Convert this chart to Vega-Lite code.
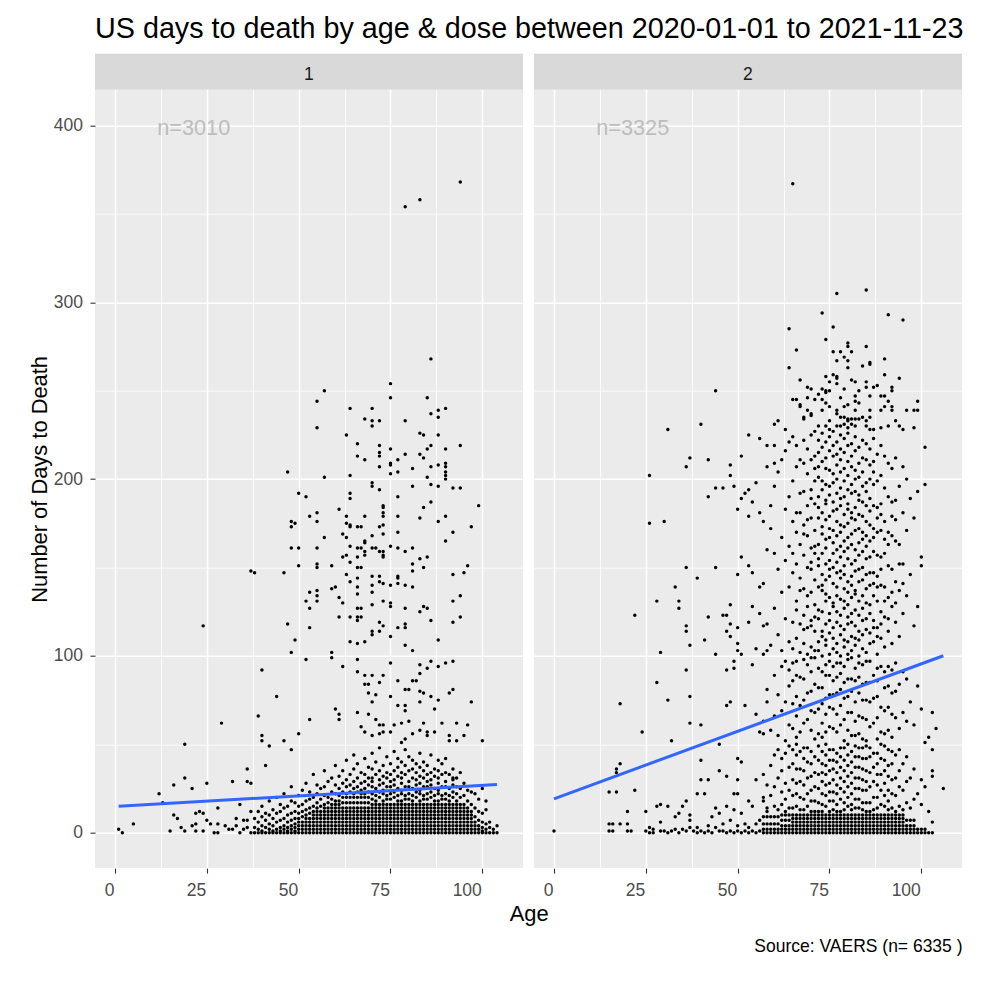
{
  "$schema": "https://vega.github.io/schema/vega-lite/v6.json",
  "background": "white",
  "padding": {"left": 28, "top": 14.7, "right": 5, "bottom": 5},
  "config": {
    "font": "Liberation Sans",
    "view": {"fill": "#EBEBEB", "stroke": null},
    "axis": {
      "domain": false,
      "gridColor": "#FFFFFF",
      "tickColor": "#333333",
      "tickWidth": 1.1,
      "tickSize": 5,
      "labelColor": "#4D4D4D",
      "labelFontSize": 17.5,
      "labelFont": "Liberation Sans",
      "titleFont": "Liberation Sans",
      "titleFontWeight": "normal",
      "titleColor": "#000000",
      "titleFontSize": 21.9,
      "labelOverlap": false,
      "labelFlush": false
    }
  },
  "bounds": "flush",
  "spacing": 11,
  "hconcat": [
    {
      "width": 428,
      "height": 814.4,
      "title": {
        "text": "US days to death by age & dose between 2020-01-01 to 2021-11-23",
        "anchor": "start",
        "frame": "group",
        "fontSize": 28.75,
        "fontWeight": "normal",
        "color": "#000000",
        "baseline": "alphabetic",
        "offset": -12.8
      },
      "layer": [
        {
          "data": {"values": [
{"age":38,"days":0},{"age":38,"days":3},{"age":38,"days":8},
{"age":39,"days":0},{"age":39,"days":2},{"age":39,"days":6},{"age":39,"days":12},
{"age":40,"days":0},{"age":40,"days":1},{"age":40,"days":4},{"age":40,"days":9},{"age":40,"days":15},
{"age":41,"days":0},{"age":41,"days":3},{"age":41,"days":7},{"age":41,"days":11},
{"age":42,"days":0},{"age":42,"days":2},{"age":42,"days":5},{"age":42,"days":10},{"age":42,"days":18},
{"age":43,"days":0},{"age":43,"days":1},{"age":43,"days":4},{"age":43,"days":8},{"age":43,"days":13},
{"age":44,"days":0},{"age":44,"days":2},{"age":44,"days":6},{"age":44,"days":11},{"age":44,"days":20},
{"age":45,"days":0},{"age":45,"days":1},{"age":45,"days":3},{"age":45,"days":7},{"age":45,"days":12},{"age":45,"days":16},
{"age":46,"days":0},{"age":46,"days":2},{"age":46,"days":4},{"age":46,"days":8},{"age":46,"days":14},{"age":46,"days":22},
{"age":47,"days":0},{"age":47,"days":1},{"age":47,"days":3},{"age":47,"days":6},{"age":47,"days":10},{"age":47,"days":15},
{"age":48,"days":0},{"age":48,"days":2},{"age":48,"days":4},{"age":48,"days":7},{"age":48,"days":11},{"age":48,"days":18},{"age":48,"days":26},
{"age":49,"days":0},{"age":49,"days":1},{"age":49,"days":3},{"age":49,"days":5},{"age":49,"days":8},{"age":49,"days":12},{"age":49,"days":17},
{"age":50,"days":0},{"age":50,"days":2},{"age":50,"days":4},{"age":50,"days":6},{"age":50,"days":8},{"age":50,"days":11},{"age":50,"days":15},{"age":50,"days":21},
{"age":51,"days":0},{"age":51,"days":2},{"age":51,"days":4},{"age":51,"days":6},{"age":51,"days":9},{"age":51,"days":12},{"age":51,"days":16},{"age":51,"days":24},
{"age":52,"days":0},{"age":52,"days":2},{"age":52,"days":4},{"age":52,"days":6},{"age":52,"days":8},{"age":52,"days":10},{"age":52,"days":13},{"age":52,"days":18},{"age":52,"days":28},
{"age":53,"days":0},{"age":53,"days":2},{"age":53,"days":4},{"age":53,"days":6},{"age":53,"days":8},{"age":53,"days":11},{"age":53,"days":14},{"age":53,"days":19},{"age":53,"days":23},
{"age":54,"days":0},{"age":54,"days":2},{"age":54,"days":4},{"age":54,"days":6},{"age":54,"days":8},{"age":54,"days":10},{"age":54,"days":12},{"age":54,"days":15},{"age":54,"days":20},{"age":54,"days":33},
{"age":55,"days":0},{"age":55,"days":2},{"age":55,"days":4},{"age":55,"days":6},{"age":55,"days":8},{"age":55,"days":10},{"age":55,"days":12},{"age":55,"days":14},{"age":55,"days":17},{"age":55,"days":22},{"age":55,"days":27},
{"age":56,"days":0},{"age":56,"days":2},{"age":56,"days":4},{"age":56,"days":6},{"age":56,"days":8},{"age":56,"days":10},{"age":56,"days":12},{"age":56,"days":15},{"age":56,"days":19},{"age":56,"days":25},
{"age":57,"days":0},{"age":57,"days":2},{"age":57,"days":4},{"age":57,"days":6},{"age":57,"days":8},{"age":57,"days":10},{"age":57,"days":12},{"age":57,"days":14},{"age":57,"days":16},{"age":57,"days":21},{"age":57,"days":26},{"age":57,"days":35},
{"age":58,"days":0},{"age":58,"days":2},{"age":58,"days":4},{"age":58,"days":6},{"age":58,"days":8},{"age":58,"days":10},{"age":58,"days":12},{"age":58,"days":14},{"age":58,"days":17},{"age":58,"days":20},{"age":58,"days":29},
{"age":59,"days":0},{"age":59,"days":2},{"age":59,"days":4},{"age":59,"days":6},{"age":59,"days":8},{"age":59,"days":10},{"age":59,"days":12},{"age":59,"days":14},{"age":59,"days":16},{"age":59,"days":19},{"age":59,"days":23},{"age":59,"days":31},
{"age":60,"days":0},{"age":60,"days":2},{"age":60,"days":4},{"age":60,"days":6},{"age":60,"days":8},{"age":60,"days":10},{"age":60,"days":12},{"age":60,"days":14},{"age":60,"days":16},{"age":60,"days":18},{"age":60,"days":22},{"age":60,"days":27},{"age":60,"days":38},
{"age":61,"days":0},{"age":61,"days":2},{"age":61,"days":4},{"age":61,"days":6},{"age":61,"days":8},{"age":61,"days":10},{"age":61,"days":12},{"age":61,"days":14},{"age":61,"days":16},{"age":61,"days":18},{"age":61,"days":21},{"age":61,"days":25},{"age":61,"days":32},
{"age":62,"days":0},{"age":62,"days":2},{"age":62,"days":4},{"age":62,"days":6},{"age":62,"days":8},{"age":62,"days":10},{"age":62,"days":12},{"age":62,"days":14},{"age":62,"days":17},{"age":62,"days":20},{"age":62,"days":23},{"age":62,"days":28},{"age":62,"days":35},
{"age":63,"days":0},{"age":63,"days":2},{"age":63,"days":4},{"age":63,"days":6},{"age":63,"days":8},{"age":63,"days":10},{"age":63,"days":12},{"age":63,"days":14},{"age":63,"days":17},{"age":63,"days":20},{"age":63,"days":22},{"age":63,"days":26},{"age":63,"days":30},{"age":63,"days":41},
{"age":64,"days":0},{"age":64,"days":2},{"age":64,"days":4},{"age":64,"days":6},{"age":64,"days":8},{"age":64,"days":10},{"age":64,"days":12},{"age":64,"days":14},{"age":64,"days":17},{"age":64,"days":20},{"age":64,"days":23},{"age":64,"days":27},{"age":64,"days":33},
{"age":65,"days":0},{"age":65,"days":2},{"age":65,"days":4},{"age":65,"days":6},{"age":65,"days":8},{"age":65,"days":10},{"age":65,"days":12},{"age":65,"days":14},{"age":65,"days":17},{"age":65,"days":20},{"age":65,"days":22},{"age":65,"days":25},{"age":65,"days":29},{"age":65,"days":36},{"age":65,"days":44},
{"age":66,"days":0},{"age":66,"days":2},{"age":66,"days":4},{"age":66,"days":6},{"age":66,"days":8},{"age":66,"days":10},{"age":66,"days":12},{"age":66,"days":14},{"age":66,"days":17},{"age":66,"days":20},{"age":66,"days":23},{"age":66,"days":26},{"age":66,"days":31},{"age":66,"days":39},
{"age":67,"days":0},{"age":67,"days":2},{"age":67,"days":4},{"age":67,"days":6},{"age":67,"days":8},{"age":67,"days":10},{"age":67,"days":12},{"age":67,"days":14},{"age":67,"days":17},{"age":67,"days":20},{"age":67,"days":22},{"age":67,"days":24},{"age":67,"days":28},{"age":67,"days":34},
{"age":68,"days":0},{"age":68,"days":2},{"age":68,"days":4},{"age":68,"days":6},{"age":68,"days":8},{"age":68,"days":10},{"age":68,"days":12},{"age":68,"days":14},{"age":68,"days":17},{"age":68,"days":20},{"age":68,"days":22},{"age":68,"days":25},{"age":68,"days":29},{"age":68,"days":33},{"age":68,"days":42},
{"age":69,"days":0},{"age":69,"days":2},{"age":69,"days":4},{"age":69,"days":6},{"age":69,"days":8},{"age":69,"days":10},{"age":69,"days":12},{"age":69,"days":14},{"age":69,"days":17},{"age":69,"days":20},{"age":69,"days":23},{"age":69,"days":27},{"age":69,"days":31},{"age":69,"days":37},
{"age":70,"days":0},{"age":70,"days":2},{"age":70,"days":4},{"age":70,"days":6},{"age":70,"days":8},{"age":70,"days":10},{"age":70,"days":12},{"age":70,"days":14},{"age":70,"days":16},{"age":70,"days":19},{"age":70,"days":22},{"age":70,"days":26},{"age":70,"days":29},{"age":70,"days":31},{"age":70,"days":36},{"age":70,"days":45},
{"age":71,"days":0},{"age":71,"days":2},{"age":71,"days":4},{"age":71,"days":6},{"age":71,"days":8},{"age":71,"days":10},{"age":71,"days":12},{"age":71,"days":14},{"age":71,"days":16},{"age":71,"days":18},{"age":71,"days":21},{"age":71,"days":25},{"age":71,"days":33},{"age":71,"days":40},
{"age":72,"days":0},{"age":72,"days":2},{"age":72,"days":4},{"age":72,"days":6},{"age":72,"days":8},{"age":72,"days":10},{"age":72,"days":12},{"age":72,"days":14},{"age":72,"days":16},{"age":72,"days":20},{"age":72,"days":23},{"age":72,"days":27},{"age":72,"days":30},{"age":72,"days":35},{"age":72,"days":48},
{"age":73,"days":0},{"age":73,"days":2},{"age":73,"days":4},{"age":73,"days":6},{"age":73,"days":8},{"age":73,"days":10},{"age":73,"days":12},{"age":73,"days":14},{"age":73,"days":16},{"age":73,"days":18},{"age":73,"days":22},{"age":73,"days":24},{"age":73,"days":28},{"age":73,"days":32},{"age":73,"days":38},
{"age":74,"days":0},{"age":74,"days":2},{"age":74,"days":4},{"age":74,"days":6},{"age":74,"days":8},{"age":74,"days":10},{"age":74,"days":12},{"age":74,"days":14},{"age":74,"days":16},{"age":74,"days":19},{"age":74,"days":21},{"age":74,"days":26},{"age":74,"days":31},{"age":74,"days":34},{"age":74,"days":43},
{"age":75,"days":0},{"age":75,"days":2},{"age":75,"days":4},{"age":75,"days":6},{"age":75,"days":8},{"age":75,"days":10},{"age":75,"days":12},{"age":75,"days":14},{"age":75,"days":16},{"age":75,"days":19},{"age":75,"days":22},{"age":75,"days":26},{"age":75,"days":29},{"age":75,"days":33},{"age":75,"days":39},
{"age":76,"days":0},{"age":76,"days":2},{"age":76,"days":4},{"age":76,"days":6},{"age":76,"days":8},{"age":76,"days":10},{"age":76,"days":12},{"age":76,"days":14},{"age":76,"days":16},{"age":76,"days":20},{"age":76,"days":23},{"age":76,"days":27},{"age":76,"days":30},{"age":76,"days":35},{"age":76,"days":46},
{"age":77,"days":0},{"age":77,"days":2},{"age":77,"days":4},{"age":77,"days":6},{"age":77,"days":8},{"age":77,"days":10},{"age":77,"days":12},{"age":77,"days":14},{"age":77,"days":16},{"age":77,"days":18},{"age":77,"days":21},{"age":77,"days":25},{"age":77,"days":32},{"age":77,"days":37},{"age":77,"days":42},
{"age":78,"days":0},{"age":78,"days":2},{"age":78,"days":4},{"age":78,"days":6},{"age":78,"days":8},{"age":78,"days":10},{"age":78,"days":12},{"age":78,"days":14},{"age":78,"days":16},{"age":78,"days":18},{"age":78,"days":22},{"age":78,"days":24},{"age":78,"days":28},{"age":78,"days":31},{"age":78,"days":34},{"age":78,"days":40},
{"age":79,"days":0},{"age":79,"days":2},{"age":79,"days":4},{"age":79,"days":6},{"age":79,"days":8},{"age":79,"days":10},{"age":79,"days":12},{"age":79,"days":14},{"age":79,"days":16},{"age":79,"days":19},{"age":79,"days":21},{"age":79,"days":26},{"age":79,"days":33},{"age":79,"days":38},{"age":79,"days":47},
{"age":80,"days":0},{"age":80,"days":2},{"age":80,"days":4},{"age":80,"days":6},{"age":80,"days":8},{"age":80,"days":10},{"age":80,"days":12},{"age":80,"days":14},{"age":80,"days":16},{"age":80,"days":19},{"age":80,"days":22},{"age":80,"days":26},{"age":80,"days":29},{"age":80,"days":35},{"age":80,"days":43},
{"age":81,"days":0},{"age":81,"days":2},{"age":81,"days":4},{"age":81,"days":6},{"age":81,"days":8},{"age":81,"days":10},{"age":81,"days":12},{"age":81,"days":14},{"age":81,"days":16},{"age":81,"days":18},{"age":81,"days":21},{"age":81,"days":25},{"age":81,"days":31},{"age":81,"days":36},{"age":81,"days":41},
{"age":82,"days":0},{"age":82,"days":2},{"age":82,"days":4},{"age":82,"days":6},{"age":82,"days":8},{"age":82,"days":10},{"age":82,"days":12},{"age":82,"days":14},{"age":82,"days":16},{"age":82,"days":20},{"age":82,"days":23},{"age":82,"days":27},{"age":82,"days":30},{"age":82,"days":34},{"age":82,"days":39},
{"age":83,"days":0},{"age":83,"days":2},{"age":83,"days":4},{"age":83,"days":6},{"age":83,"days":8},{"age":83,"days":10},{"age":83,"days":12},{"age":83,"days":14},{"age":83,"days":16},{"age":83,"days":18},{"age":83,"days":22},{"age":83,"days":24},{"age":83,"days":28},{"age":83,"days":32},{"age":83,"days":37},{"age":83,"days":45},
{"age":84,"days":0},{"age":84,"days":2},{"age":84,"days":4},{"age":84,"days":6},{"age":84,"days":8},{"age":84,"days":10},{"age":84,"days":12},{"age":84,"days":14},{"age":84,"days":16},{"age":84,"days":19},{"age":84,"days":21},{"age":84,"days":26},{"age":84,"days":31},{"age":84,"days":35},{"age":84,"days":40},
{"age":85,"days":0},{"age":85,"days":2},{"age":85,"days":4},{"age":85,"days":6},{"age":85,"days":8},{"age":85,"days":10},{"age":85,"days":12},{"age":85,"days":14},{"age":85,"days":16},{"age":85,"days":19},{"age":85,"days":22},{"age":85,"days":26},{"age":85,"days":29},{"age":85,"days":33},{"age":85,"days":38},
{"age":86,"days":0},{"age":86,"days":2},{"age":86,"days":4},{"age":86,"days":6},{"age":86,"days":8},{"age":86,"days":10},{"age":86,"days":12},{"age":86,"days":14},{"age":86,"days":16},{"age":86,"days":20},{"age":86,"days":23},{"age":86,"days":27},{"age":86,"days":30},{"age":86,"days":34},{"age":86,"days":44},
{"age":87,"days":0},{"age":87,"days":2},{"age":87,"days":4},{"age":87,"days":6},{"age":87,"days":8},{"age":87,"days":10},{"age":87,"days":12},{"age":87,"days":14},{"age":87,"days":16},{"age":87,"days":18},{"age":87,"days":21},{"age":87,"days":25},{"age":87,"days":32},{"age":87,"days":36},
{"age":88,"days":0},{"age":88,"days":2},{"age":88,"days":4},{"age":88,"days":6},{"age":88,"days":8},{"age":88,"days":10},{"age":88,"days":12},{"age":88,"days":14},{"age":88,"days":16},{"age":88,"days":18},{"age":88,"days":22},{"age":88,"days":24},{"age":88,"days":28},{"age":88,"days":31},{"age":88,"days":35},{"age":88,"days":41},
{"age":89,"days":0},{"age":89,"days":2},{"age":89,"days":4},{"age":89,"days":6},{"age":89,"days":8},{"age":89,"days":10},{"age":89,"days":12},{"age":89,"days":14},{"age":89,"days":16},{"age":89,"days":19},{"age":89,"days":21},{"age":89,"days":26},{"age":89,"days":33},{"age":89,"days":39},
{"age":90,"days":0},{"age":90,"days":2},{"age":90,"days":4},{"age":90,"days":6},{"age":90,"days":8},{"age":90,"days":10},{"age":90,"days":12},{"age":90,"days":14},{"age":90,"days":16},{"age":90,"days":19},{"age":90,"days":22},{"age":90,"days":26},{"age":90,"days":29},{"age":90,"days":34},{"age":90,"days":42},
{"age":91,"days":0},{"age":91,"days":2},{"age":91,"days":4},{"age":91,"days":6},{"age":91,"days":8},{"age":91,"days":10},{"age":91,"days":12},{"age":91,"days":14},{"age":91,"days":16},{"age":91,"days":18},{"age":91,"days":21},{"age":91,"days":25},{"age":91,"days":33},
{"age":92,"days":0},{"age":92,"days":2},{"age":92,"days":4},{"age":92,"days":6},{"age":92,"days":8},{"age":92,"days":10},{"age":92,"days":12},{"age":92,"days":14},{"age":92,"days":16},{"age":92,"days":20},{"age":92,"days":23},{"age":92,"days":27},{"age":92,"days":30},{"age":92,"days":31},{"age":92,"days":36},
{"age":93,"days":0},{"age":93,"days":2},{"age":93,"days":4},{"age":93,"days":6},{"age":93,"days":8},{"age":93,"days":10},{"age":93,"days":12},{"age":93,"days":14},{"age":93,"days":16},{"age":93,"days":18},{"age":93,"days":22},{"age":93,"days":26},{"age":93,"days":31},
{"age":94,"days":0},{"age":94,"days":2},{"age":94,"days":4},{"age":94,"days":6},{"age":94,"days":8},{"age":94,"days":10},{"age":94,"days":12},{"age":94,"days":14},{"age":94,"days":16},{"age":94,"days":20},{"age":94,"days":25},{"age":94,"days":34},
{"age":95,"days":0},{"age":95,"days":2},{"age":95,"days":4},{"age":95,"days":6},{"age":95,"days":8},{"age":95,"days":10},{"age":95,"days":12},{"age":95,"days":14},{"age":95,"days":16},{"age":95,"days":21},{"age":95,"days":28},
{"age":96,"days":0},{"age":96,"days":2},{"age":96,"days":4},{"age":96,"days":6},{"age":96,"days":8},{"age":96,"days":10},{"age":96,"days":12},{"age":96,"days":14},{"age":96,"days":18},{"age":96,"days":24},
{"age":97,"days":0},{"age":97,"days":2},{"age":97,"days":4},{"age":97,"days":6},{"age":97,"days":8},{"age":97,"days":10},{"age":97,"days":12},{"age":97,"days":16},{"age":97,"days":23},
{"age":98,"days":0},{"age":98,"days":2},{"age":98,"days":4},{"age":98,"days":6},{"age":98,"days":9},{"age":98,"days":14},{"age":98,"days":22},
{"age":99,"days":0},{"age":99,"days":2},{"age":99,"days":4},{"age":99,"days":7},{"age":99,"days":12},{"age":99,"days":19},
{"age":100,"days":0},{"age":100,"days":1},{"age":100,"days":3},{"age":100,"days":6},{"age":100,"days":11},{"age":100,"days":25},
{"age":101,"days":0},{"age":101,"days":2},{"age":101,"days":5},{"age":101,"days":13},{"age":101,"days":18},
{"age":102,"days":0},{"age":102,"days":3},{"age":102,"days":6},
{"age":103,"days":0},{"age":103,"days":2},
{"age":104,"days":0},{"age":104,"days":4},
{"age":94,"days":368},{"age":83,"days":358},{"age":79,"days":354},{"age":86,"days":268},{"age":75,"days":254},{"age":57,"days":250},{"age":55,"days":244},{"age":75,"days":246},{"age":85,"days":246},{"age":64,"days":240},{"age":70,"days":240},{"age":90,"days":240},{"age":88,"days":239},{"age":86,"days":237},{"age":88,"days":235},{"age":68,"days":234},{"age":70,"days":233},{"age":72,"days":233},{"age":79,"days":233},{"age":70,"days":230},{"age":55,"days":229},
{"age":63,"days":225},{"age":83,"days":226},{"age":84,"days":225},{"age":88,"days":225},{"age":66,"days":220},{"age":72,"days":219},{"age":94,"days":219},{"age":72,"days":215},{"age":75,"days":217},{"age":86,"days":219},{"age":85,"days":217},{"age":90,"days":217},{"age":79,"days":214},{"age":83,"days":214},{"age":72,"days":213},{"age":66,"days":213},{"age":68,"days":211},{"age":77,"days":211},{"age":84,"days":212},{"age":75,"days":209},{"age":75,"days":208},{"age":81,"days":206},{"age":72,"days":207},{"age":86,"days":207},{"age":88,"days":208},{"age":90,"days":209},{"age":90,"days":207},{"age":90,"days":204},{"age":90,"days":202},{"age":77,"days":204},{"age":75,"days":203},{"age":47,"days":204},{"age":57,"days":201},{"age":64,"days":202},{"age":85,"days":201},{"age":90,"days":200},{"age":86,"days":197},{"age":88,"days":196},{"age":70,"days":198},{"age":70,"days":196},{"age":81,"days":196},{"age":72,"days":194},{"age":92,"days":195},{"age":94,"days":195},
{"age":50,"days":192},{"age":52,"days":190},{"age":64,"days":192},{"age":64,"days":189},{"age":77,"days":190},{"age":86,"days":187},{"age":99,"days":185},{"age":84,"days":184},{"age":73,"days":185},{"age":73,"days":184},{"age":73,"days":181},{"age":73,"days":179},{"age":61,"days":183},{"age":55,"days":181},{"age":53,"days":179},{"age":63,"days":179},{"age":68,"days":179},{"age":77,"days":179},{"age":83,"days":178},{"age":90,"days":179},{"age":48,"days":176},{"age":48,"days":173},{"age":49,"days":175},{"age":55,"days":176},{"age":63,"days":175},{"age":64,"days":174},{"age":64,"days":173},{"age":66,"days":173},{"age":67,"days":173},{"age":72,"days":173},{"age":73,"days":174},{"age":88,"days":176},{"age":97,"days":173},
{"age":77,"days":170},{"age":73,"days":169},{"age":70,"days":168},{"age":62,"days":169},{"age":63,"days":167},{"age":57,"days":167},{"age":92,"days":170},{"age":90,"days":165},{"age":68,"days":165},{"age":68,"days":164},{"age":64,"days":162},{"age":66,"days":161},{"age":67,"days":161},{"age":70,"days":161},{"age":71,"days":161},{"age":72,"days":159},{"age":73,"days":159},{"age":73,"days":157},{"age":73,"days":156},{"age":75,"days":162},{"age":77,"days":161},{"age":79,"days":159},{"age":81,"days":161},{"age":48,"days":161},{"age":50,"days":161},{"age":55,"days":161},{"age":68,"days":159},{"age":68,"days":157},{"age":66,"days":156},{"age":62,"days":156},{"age":63,"days":157},{"age":64,"days":153},{"age":83,"days":155},{"age":85,"days":156},{"age":81,"days":152},{"age":84,"days":150},{"age":96,"days":151},{"age":50,"days":151},{"age":55,"days":152},{"age":55,"days":150},{"age":59,"days":151},{"age":66,"days":150},{"age":67,"days":150},
{"age":37,"days":148},{"age":38,"days":147},{"age":46,"days":147},{"age":63,"days":146},{"age":70,"days":145},{"age":72,"days":145},{"age":77,"days":145},{"age":77,"days":144},{"age":81,"days":148},{"age":92,"days":146},{"age":95,"days":147},{"age":66,"days":144},{"age":64,"days":142},{"age":72,"days":142},{"age":73,"days":141},{"age":75,"days":140},{"age":77,"days":141},{"age":79,"days":140},{"age":81,"days":139},{"age":70,"days":140},{"age":66,"days":139},{"age":59,"days":138},{"age":60,"days":139},{"age":53,"days":136},{"age":55,"days":137},{"age":55,"days":134},{"age":55,"days":131},{"age":70,"days":136},{"age":66,"days":135},{"age":94,"days":134},{"age":52,"days":131},{"age":61,"days":133},{"age":62,"days":130},{"age":73,"days":131},{"age":75,"days":130},{"age":75,"days":128},{"age":92,"days":131},{"age":53,"days":127},{"age":66,"days":127},{"age":67,"days":127},{"age":70,"days":129},{"age":79,"days":127},{"age":84,"days":128},{"age":85,"days":127},{"age":83,"days":125},
{"age":61,"days":122},{"age":64,"days":122},{"age":66,"days":122},{"age":66,"days":120},{"age":67,"days":122},{"age":94,"days":122},{"age":86,"days":120},{"age":92,"days":119},{"age":24,"days":117},{"age":47,"days":118},{"age":53,"days":116},{"age":72,"days":119},{"age":73,"days":117},{"age":70,"days":114},{"age":70,"days":112},{"age":72,"days":114},{"age":75,"days":111},{"age":77,"days":116},{"age":79,"days":116},{"age":79,"days":118},{"age":49,"days":109},{"age":64,"days":108},{"age":66,"days":107},{"age":68,"days":108},{"age":88,"days":109},{"age":79,"days":106},{"age":81,"days":103},{"age":48,"days":102},{"age":59,"days":102},{"age":59,"days":99},{"age":52,"days":98},{"age":66,"days":98},{"age":75,"days":96},{"age":62,"days":94},{"age":83,"days":95},{"age":85,"days":93},{"age":86,"days":97},{"age":88,"days":94},{"age":90,"days":96},{"age":92,"days":97},{"age":40,"days":92},{"age":66,"days":91},{"age":68,"days":89},{"age":70,"days":89},{"age":73,"days":89},{"age":83,"days":90},{"age":68,"days":84},{"age":69,"days":84},{"age":72,"days":85},{"age":77,"days":86},{"age":81,"days":86},{"age":82,"days":86},{"age":79,"days":81},{"age":83,"days":80},{"age":92,"days":81},
{"age":44,"days":77},{"age":91,"days":79},{"age":69,"days":79},{"age":71,"days":78},{"age":70,"days":74},{"age":75,"days":77},{"age":80,"days":81},{"age":84,"days":79},{"age":86,"days":77},{"age":88,"days":75},{"age":97,"days":74},{"age":83,"days":74},{"age":87,"days":70},{"age":66,"days":68},{"age":69,"days":67},{"age":71,"days":64},{"age":60,"days":70},{"age":61,"days":67},{"age":61,"days":64},{"age":39,"days":66},{"age":29,"days":62},{"age":53,"days":64},{"age":76,"days":61},{"age":77,"days":72},{"age":79,"days":72},{"age":79,"days":69},{"age":78,"days":62},{"age":80,"days":63},{"age":84,"days":62},{"age":89,"days":62},{"age":93,"days":62},{"age":96,"days":61},{"age":72,"days":61},{"age":73,"days":61},{"age":67,"days":60},{"age":68,"days":57},{"age":70,"days":55},{"age":72,"days":56},{"age":73,"days":57},{"age":75,"days":57},{"age":78,"days":51},{"age":79,"days":53},{"age":81,"days":56},{"age":83,"days":58},{"age":85,"days":55},{"age":85,"days":57},{"age":87,"days":57},{"age":91,"days":52},{"age":93,"days":52},{"age":95,"days":55},{"age":91,"days":55},{"age":100,"days":52},{"age":40,"days":55},{"age":40,"days":52},{"age":46,"days":52},{"age":50,"days":56},{"age":48,"days":47},{"age":42,"days":49},{"age":19,"days":50},{"age":36,"days":36},{"age":41,"days":38},{"age":32,"days":29},{"age":36,"days":29},{"age":37,"days":28},{"age":19,"days":31},{"age":16,"days":27},{"age":21,"days":25},{"age":25,"days":28},{"age":12,"days":22},{"age":13,"days":17},
{"age":1,"days":2},{"age":2,"days":0},{"age":5,"days":5},{"age":15,"days":1},{"age":16,"days":10},{"age":17,"days":8},{"age":18,"days":3},{"age":19,"days":1},{"age":21,"days":4},{"age":22,"days":11},{"age":22,"days":5},{"age":22,"days":1},{"age":23,"days":12},{"age":24,"days":11},{"age":25,"days":7},{"age":26,"days":5},{"age":24,"days":1},
{"age":27,"days":0},{"age":28,"days":0},{"age":28,"days":14},{"age":28,"days":5},{"age":30,"days":4},{"age":31,"days":2},{"age":32,"days":2},{"age":33,"days":8},{"age":33,"days":4},{"age":34,"days":0},{"age":34,"days":16},{"age":35,"days":7},{"age":35,"days":2},{"age":36,"days":3},{"age":36,"days":7},{"age":37,"days":0},{"age":37,"days":12}
          ]},
          "mark": {"type": "circle", "size": 12, "color": "#000000", "opacity": 1},
          "encoding": {
            "x": {
              "field": "age", "type": "quantitative",
              "scale": {"domain": [-5.44, 111.07], "nice": false, "zero": false},
              "axis": {
                "values": [0, 12.5, 25, 37.5, 50, 62.5, 75, 87.5, 100],
                "labelExpr": "datum.value % 25 === 0 ? datum.label : ''",
                "labelAlign": "right",
                "labelOffset": -1,
                "labelPadding": 8.5,
                "tickOpacity": {"condition": {"test": "datum.value % 25 === 0", "value": 1}, "value": 0},
                "gridWidth": {"condition": {"test": "datum.value % 25 === 0", "value": 1.5}, "value": 0.8},
                "title": "Age",
                "titleX": 433.7,
                "titleY": 52.3,
                "titleAlign": "center",
                "titleBaseline": "alphabetic",
                "titleAngle": 0
              }
            },
            "y": {
              "field": "days", "type": "quantitative",
              "scale": {"domain": [-20, 440.6], "nice": false, "zero": false},
              "axis": {
                "values": [0, 50, 100, 150, 200, 250, 300, 350, 400],
                "labelExpr": "datum.value % 100 === 0 ? datum.label : ''",
                "labelPadding": 7.5,
                "tickOpacity": {"condition": {"test": "datum.value % 100 === 0", "value": 1}, "value": 0},
                "gridWidth": {"condition": {"test": "datum.value % 100 === 0", "value": 1.5}, "value": 0.8},
                "title": "Number of Days to Death",
                "titleX": -49,
                "titleY": 425.2,
                "titleAngle": -90,
                "titleAlign": "center",
                "titleBaseline": "alphabetic"
              }
            }
          }
        },
        {
          "data": {"values": [{"age": 1, "days": 15.0}, {"age": 104, "days": 27.3}]},
          "mark": {"type": "line", "color": "#3366FF", "strokeWidth": 3},
          "encoding": {
            "x": {"field": "age", "type": "quantitative"},
            "y": {"field": "days", "type": "quantitative"}
          }
        },
        {
          "data": {"values": [{"panel": "1", "n": "n=3010"}]},
          "layer": [
            {
              "mark": {"type": "rect", "color": "#D9D9D9"},
              "encoding": {
                "x": {"datum": -5.44}, "x2": {"datum": 111.07},
                "y": {"datum": 420.4}, "y2": {"datum": 440.6}
              }
            },
            {
              "mark": {"type": "text", "fontSize": 17.5, "color": "#1A1A1A", "align": "center", "baseline": "alphabetic"},
              "encoding": {"x": {"datum": 52.8}, "y": {"datum": 425.5}, "text": {"field": "panel"}}
            },
            {
              "mark": {"type": "text", "fontSize": 21.7, "color": "#BDBDBD", "align": "left", "baseline": "alphabetic"},
              "encoding": {"x": {"datum": 11.5}, "y": {"datum": 394.7}, "text": {"field": "n"}}
            }
          ]
        }
      ]
    },
    {
      "width": 428,
      "height": 814.4,
      "layer": [
        {
          "data": {"values": [
{"age":0,"days":1},{"age":15,"days":5},{"age":15,"days":1},{"age":16,"days":5},{"age":16,"days":1},{"age":18,"days":5},{"age":20,"days":5},{"age":20,"days":1},{"age":21,"days":1},{"age":20,"days":12},{"age":15,"days":23},{"age":17,"days":23},{"age":22,"days":24},{"age":17,"days":36},{"age":17,"days":34},{"age":18,"days":39},{"age":18,"days":73},{"age":24,"days":57},{"age":31,"days":75},{"age":37,"days":77},{"age":37,"days":62},{"age":40,"days":61},{"age":32,"days":52},{"age":45,"days":50},{"age":48,"days":74},{"age":47,"days":72},{"age":52,"days":72},{"age":55,"days":67},{"age":58,"days":74},{"age":56,"days":57},{"age":57,"days":56},{"age":50,"days":42},{"age":51,"days":40},
{"age":25,"days":12},{"age":25,"days":1},{"age":26,"days":3},{"age":27,"days":2},{"age":28,"days":15},{"age":29,"days":16},{"age":29,"days":6},{"age":30,"days":1},{"age":31,"days":15},{"age":32,"days":1},{"age":33,"days":9},{"age":33,"days":2},{"age":34,"days":11},{"age":35,"days":15},{"age":35,"days":2},{"age":36,"days":18},{"age":37,"days":10},{"age":37,"days":3},{"age":37,"days":7},{"age":38,"days":1},{"age":39,"days":22},{"age":39,"days":3},{"age":40,"days":41},{"age":40,"days":30},{"age":41,"days":22},{"age":42,"days":30},{"age":43,"days":9},{"age":44,"days":14},{"age":44,"days":3},{"age":45,"days":35},{"age":45,"days":11},{"age":46,"days":1},{"age":47,"days":15},{"age":47,"days":32},{"age":48,"days":7},{"age":49,"days":22},{"age":49,"days":13},{"age":50,"days":30},{"age":50,"days":22},{"age":51,"days":11},{"age":52,"days":5},{"age":53,"days":18},{"age":54,"days":15},{"age":55,"days":30},{"age":56,"days":7},{"age":57,"days":20},{"age":58,"days":12},
{"age":26,"days":0},{"age":27,"days":0},{"age":29,"days":1},{"age":31,"days":0},{"age":34,"days":0},{"age":36,"days":1},{"age":39,"days":0},{"age":40,"days":1},{"age":41,"days":0},{"age":42,"days":1},{"age":43,"days":0},{"age":45,"days":1},{"age":47,"days":0},{"age":48,"days":1},{"age":49,"days":0},{"age":50,"days":1},{"age":51,"days":0},{"age":52,"days":1},{"age":53,"days":0},{"age":54,"days":1},{"age":55,"days":0},{"age":56,"days":1},{"age":42,"days":4},{"age":46,"days":5},{"age":50,"days":4},{"age":53,"days":3},{"age":55,"days":5},
{"age":26,"days":202},{"age":37,"days":212},{"age":36,"days":207},{"age":42,"days":211},{"age":48,"days":208},{"age":48,"days":202},{"age":51,"days":213},{"age":53,"days":225},{"age":56,"days":223},{"age":58,"days":219},{"age":60,"days":219},{"age":60,"days":209},{"age":58,"days":207},{"age":44,"days":195},{"age":46,"days":195},{"age":49,"days":196},{"age":42,"days":190},{"age":52,"days":192},{"age":53,"days":194},{"age":51,"days":189},{"age":54,"days":187},{"age":26,"days":175},{"age":30,"days":176},{"age":50,"days":183},{"age":53,"days":179},{"age":36,"days":150},{"age":44,"days":150},{"age":39,"days":144},{"age":33,"days":139},{"age":28,"days":131},{"age":34,"days":131},{"age":34,"days":127},{"age":22,"days":123},{"age":36,"days":117},{"age":36,"days":114},{"age":41,"days":109},{"age":37,"days":106},{"age":29,"days":102},{"age":44,"days":101},{"age":36,"days":92},{"age":28,"days":85},{"age":42,"days":122},{"age":46,"days":123},{"age":47,"days":123},{"age":48,"days":129},{"age":48,"days":118},{"age":47,"days":114},{"age":50,"days":116},{"age":48,"days":111},{"age":50,"days":107},{"age":50,"days":103},{"age":51,"days":101},{"age":51,"days":156},{"age":53,"days":151},{"age":54,"days":147},{"age":50,"days":146},{"age":53,"days":119},{"age":54,"days":128},{"age":56,"days":124},{"age":57,"days":117},{"age":56,"days":181},
{"age":55,"days":104},{"age":56,"days":139},{"age":58,"days":160},{"age":59,"days":185},{"age":55,"days":198},{"age":57,"days":176},{"age":49,"days":93},{"age":47,"days":92},{"age":49,"days":97},{"age":54,"days":95},{"age":57,"days":101},{"age":58,"days":103},
{"age":103,"days":68},{"age":104,"days":59},{"age":101,"days":51},{"age":103,"days":47},{"age":106,"days":25},{"age":103,"days":35},{"age":103,"days":32},{"age":100,"days":30},{"age":103,"days":6},{"age":101,"days":218},{"age":100,"days":151},
{"age":65,"days":367},{"age":77,"days":305},{"age":85,"days":307},{"age":73,"days":294},{"age":91,"days":293},{"age":95,"days":290},{"age":64,"days":285},{"age":76,"days":286},{"age":74,"days":279},{"age":80,"days":277},{"age":80,"days":275},{"age":85,"days":275},{"age":66,"days":273},{"age":76,"days":272},{"age":78,"days":272},{"age":81,"days":272},{"age":77,"days":267},{"age":79,"days":269},{"age":80,"days":267},{"age":86,"days":266},{"age":86,"days":265},{"age":84,"days":264},{"age":90,"days":268},{"age":64,"days":263},{"age":80,"days":263},{"age":74,"days":258},{"age":76,"days":259},{"age":77,"days":258},{"age":77,"days":257},{"age":90,"days":259},{"age":94,"days":257},{"age":67,"days":256},{"age":81,"days":256},{"age":82,"days":255},{"age":85,"days":255},{"age":75,"days":255},{"age":77,"days":254},{"age":69,"days":252},{"age":70,"days":251},{"age":73,"days":251},{"age":74,"days":250},{"age":75,"days":250},{"age":74,"days":249},{"age":79,"days":251},{"age":83,"days":250},{"age":85,"days":252},{"age":87,"days":252},{"age":88,"days":253},{"age":92,"days":252},{"age":92,"days":250},{"age":44,"days":250},
{"age":65,"days":245},{"age":66,"days":245},{"age":69,"days":246},{"age":72,"days":248},{"age":71,"days":245},{"age":73,"days":245},{"age":78,"days":246},{"age":82,"days":247},{"age":82,"days":244},{"age":86,"days":247},{"age":89,"days":247},{"age":90,"days":247},{"age":91,"days":244},{"age":99,"days":244},{"age":67,"days":242},{"age":67,"days":241},{"age":69,"days":239},{"age":75,"days":241},{"age":74,"days":243},{"age":77,"days":239},{"age":79,"days":241},{"age":80,"days":242},{"age":82,"days":239},{"age":83,"days":243},{"age":86,"days":239},{"age":89,"days":239},{"age":90,"days":241},{"age":92,"days":241},{"age":92,"days":239},{"age":96,"days":239},{"age":98,"days":239},{"age":99,"days":239},{"age":68,"days":235},{"age":68,"days":234},{"age":70,"days":236},{"age":70,"days":237},{"age":73,"days":239},{"age":77,"days":237},{"age":78,"days":235},{"age":79,"days":235},{"age":80,"days":234},{"age":80,"days":233},{"age":81,"days":234},{"age":82,"days":234},{"age":83,"days":234},{"age":84,"days":235},{"age":86,"days":235},{"age":93,"days":233},{"age":94,"days":230},{"age":95,"days":228},{"age":98,"days":229},{"age":75,"days":233},{"age":74,"days":230},{"age":72,"days":230},{"age":75,"days":228},{"age":77,"days":230},{"age":78,"days":230},{"age":79,"days":231},{"age":80,"days":229},{"age":81,"days":231},{"age":82,"days":230},{"age":85,"days":233},{"age":85,"days":230},{"age":86,"days":228},{"age":87,"days":228},{"age":89,"days":229},{"age":91,"days":230},{"age":60,"days":231},{"age":61,"days":233},{"age":63,"days":228},{"age":40,"days":231},{"age":31,"days":228},
{"age":57,"days":0},{"age":57,"days":2},{"age":57,"days":5},{"age":57,"days":9},{"age":57,"days":18},{"age":57,"days":33},{"age":57,"days":63},{"age":57,"days":141},
{"age":58,"days":0},{"age":58,"days":2},{"age":58,"days":5},{"age":58,"days":9},{"age":58,"days":14},{"age":58,"days":27},{"age":58,"days":81},{"age":58,"days":118},
{"age":59,"days":0},{"age":59,"days":2},{"age":59,"days":5},{"age":59,"days":9},{"age":59,"days":21},{"age":59,"days":38},{"age":59,"days":58},{"age":59,"days":106},{"age":59,"days":172},
{"age":60,"days":0},{"age":60,"days":2},{"age":60,"days":5},{"age":60,"days":9},{"age":60,"days":15},{"age":60,"days":26},{"age":60,"days":44},{"age":60,"days":66},{"age":60,"days":89},{"age":60,"days":127},{"age":60,"days":158},{"age":60,"days":196},
{"age":61,"days":0},{"age":61,"days":2},{"age":61,"days":5},{"age":61,"days":9},{"age":61,"days":13},{"age":61,"days":31},{"age":61,"days":47},{"age":61,"days":55},{"age":61,"days":78},{"age":61,"days":112},{"age":61,"days":149},{"age":61,"days":204},
{"age":62,"days":0},{"age":62,"days":2},{"age":62,"days":4},{"age":62,"days":7},{"age":62,"days":10},{"age":62,"days":16},{"age":62,"days":23},{"age":62,"days":35},{"age":62,"days":42},{"age":62,"days":69},{"age":62,"days":94},{"age":62,"days":103},{"age":62,"days":136},{"age":62,"days":167},{"age":62,"days":211},
{"age":63,"days":0},{"age":63,"days":2},{"age":63,"days":4},{"age":63,"days":7},{"age":63,"days":10},{"age":63,"days":12},{"age":63,"days":19},{"age":63,"days":28},{"age":63,"days":45},{"age":63,"days":52},{"age":63,"days":74},{"age":63,"days":97},{"age":63,"days":121},{"age":63,"days":154},{"age":63,"days":183},{"age":63,"days":216},
{"age":64,"days":0},{"age":64,"days":2},{"age":64,"days":4},{"age":64,"days":7},{"age":64,"days":10},{"age":64,"days":14},{"age":64,"days":24},{"age":64,"days":37},{"age":64,"days":49},{"age":64,"days":61},{"age":64,"days":83},{"age":64,"days":92},{"age":64,"days":108},{"age":64,"days":139},{"age":64,"days":162},{"age":64,"days":190},{"age":64,"days":221},
{"age":65,"days":0},{"age":65,"days":2},{"age":65,"days":4},{"age":65,"days":6},{"age":65,"days":8},{"age":65,"days":10},{"age":65,"days":14},{"age":65,"days":21},{"age":65,"days":30},{"age":65,"days":39},{"age":65,"days":47},{"age":65,"days":59},{"age":65,"days":73},{"age":65,"days":86},{"age":65,"days":96},{"age":65,"days":104},{"age":65,"days":119},{"age":65,"days":147},{"age":65,"days":158},{"age":65,"days":176},{"age":65,"days":199},{"age":65,"days":224},
{"age":66,"days":0},{"age":66,"days":2},{"age":66,"days":4},{"age":66,"days":6},{"age":66,"days":8},{"age":66,"days":10},{"age":66,"days":15},{"age":66,"days":22},{"age":66,"days":28},{"age":66,"days":36},{"age":66,"days":44},{"age":66,"days":50},{"age":66,"days":54},{"age":66,"days":66},{"age":66,"days":77},{"age":66,"days":89},{"age":66,"days":97},{"age":66,"days":110},{"age":66,"days":126},{"age":66,"days":131},{"age":66,"days":152},{"age":66,"days":170},{"age":66,"days":181},{"age":66,"days":207},{"age":66,"days":219},
{"age":67,"days":0},{"age":67,"days":2},{"age":67,"days":4},{"age":67,"days":6},{"age":67,"days":8},{"age":67,"days":10},{"age":67,"days":13},{"age":67,"days":20},{"age":67,"days":29},{"age":67,"days":36},{"age":67,"days":46},{"age":67,"days":57},{"age":67,"days":72},{"age":67,"days":88},{"age":67,"days":102},{"age":67,"days":118},{"age":67,"days":137},{"age":67,"days":144},{"age":67,"days":163},{"age":67,"days":181},{"age":67,"days":192},{"age":67,"days":211},
{"age":68,"days":0},{"age":68,"days":2},{"age":68,"days":4},{"age":68,"days":6},{"age":68,"days":8},{"age":68,"days":10},{"age":68,"days":13},{"age":68,"days":19},{"age":68,"days":27},{"age":68,"days":35},{"age":68,"days":42},{"age":68,"days":48},{"age":68,"days":62},{"age":68,"days":75},{"age":68,"days":87},{"age":68,"days":98},{"age":68,"days":107},{"age":68,"days":115},{"age":68,"days":123},{"age":68,"days":138},{"age":68,"days":157},{"age":68,"days":169},{"age":68,"days":174},{"age":68,"days":193},{"age":68,"days":209},{"age":68,"days":222},
{"age":69,"days":0},{"age":69,"days":2},{"age":69,"days":4},{"age":69,"days":6},{"age":69,"days":8},{"age":69,"days":10},{"age":69,"days":15},{"age":69,"days":22},{"age":69,"days":31},{"age":69,"days":40},{"age":69,"days":48},{"age":69,"days":64},{"age":69,"days":79},{"age":69,"days":95},{"age":69,"days":101},{"age":69,"days":116},{"age":69,"days":128},{"age":69,"days":134},{"age":69,"days":150},{"age":69,"days":168},{"age":69,"days":177},{"age":69,"days":185},{"age":69,"days":203},{"age":69,"days":217},
{"age":70,"days":0},{"age":70,"days":2},{"age":70,"days":4},{"age":70,"days":6},{"age":70,"days":8},{"age":70,"days":10},{"age":70,"days":12},{"age":70,"days":18},{"age":70,"days":24},{"age":70,"days":32},{"age":70,"days":39},{"age":70,"days":46},{"age":70,"days":58},{"age":70,"days":69},{"age":70,"days":80},{"age":70,"days":91},{"age":70,"days":99},{"age":70,"days":105},{"age":70,"days":117},{"age":70,"days":120},{"age":70,"days":136},{"age":70,"days":149},{"age":70,"days":153},{"age":70,"days":161},{"age":70,"days":178},{"age":70,"days":189},{"age":70,"days":194},{"age":70,"days":211},{"age":70,"days":225},
{"age":71,"days":0},{"age":71,"days":2},{"age":71,"days":4},{"age":71,"days":6},{"age":71,"days":8},{"age":71,"days":10},{"age":71,"days":12},{"age":71,"days":18},{"age":71,"days":26},{"age":71,"days":34},{"age":71,"days":43},{"age":71,"days":53},{"age":71,"days":68},{"age":71,"days":84},{"age":71,"days":99},{"age":71,"days":103},{"age":71,"days":114},{"age":71,"days":122},{"age":71,"days":129},{"age":71,"days":143},{"age":71,"days":158},{"age":71,"days":162},{"age":71,"days":171},{"age":71,"days":186},{"age":71,"days":199},{"age":71,"days":206},{"age":71,"days":213},{"age":71,"days":227},
{"age":72,"days":0},{"age":72,"days":2},{"age":72,"days":4},{"age":72,"days":6},{"age":72,"days":8},{"age":72,"days":10},{"age":72,"days":12},{"age":72,"days":17},{"age":72,"days":25},{"age":72,"days":33},{"age":72,"days":41},{"age":72,"days":49},{"age":72,"days":56},{"age":72,"days":70},{"age":72,"days":82},{"age":72,"days":93},{"age":72,"days":103},{"age":72,"days":108},{"age":72,"days":121},{"age":72,"days":126},{"age":72,"days":139},{"age":72,"days":151},{"age":72,"days":155},{"age":72,"days":163},{"age":72,"days":178},{"age":72,"days":184},{"age":72,"days":190},{"age":72,"days":201},{"age":72,"days":207},{"age":72,"days":215},{"age":72,"days":222},
{"age":73,"days":0},{"age":73,"days":2},{"age":73,"days":4},{"age":73,"days":6},{"age":73,"days":8},{"age":73,"days":10},{"age":73,"days":12},{"age":73,"days":16},{"age":73,"days":22},{"age":73,"days":29},{"age":73,"days":34},{"age":73,"days":39},{"age":73,"days":46},{"age":73,"days":54},{"age":73,"days":62},{"age":73,"days":73},{"age":73,"days":82},{"age":73,"days":91},{"age":73,"days":100},{"age":73,"days":111},{"age":73,"days":114},{"age":73,"days":125},{"age":73,"days":137},{"age":73,"days":140},{"age":73,"days":146},{"age":73,"days":158},{"age":73,"days":169},{"age":73,"days":173},{"age":73,"days":181},{"age":73,"days":194},{"age":73,"days":199},{"age":73,"days":210},{"age":73,"days":218},{"age":73,"days":226},
{"age":74,"days":0},{"age":74,"days":2},{"age":74,"days":4},{"age":74,"days":6},{"age":74,"days":8},{"age":74,"days":10},{"age":74,"days":15},{"age":74,"days":21},{"age":74,"days":27},{"age":74,"days":33},{"age":74,"days":38},{"age":74,"days":44},{"age":74,"days":50},{"age":74,"days":57},{"age":74,"days":67},{"age":74,"days":76},{"age":74,"days":89},{"age":74,"days":95},{"age":74,"days":106},{"age":74,"days":109},{"age":74,"days":118},{"age":74,"days":131},{"age":74,"days":135},{"age":74,"days":143},{"age":74,"days":152},{"age":74,"days":161},{"age":74,"days":166},{"age":74,"days":177},{"age":74,"days":186},{"age":74,"days":188},{"age":74,"days":197},{"age":74,"days":206},{"age":74,"days":212},{"age":74,"days":221},
{"age":75,"days":0},{"age":75,"days":2},{"age":75,"days":4},{"age":75,"days":6},{"age":75,"days":8},{"age":75,"days":10},{"age":75,"days":12},{"age":75,"days":18},{"age":75,"days":23},{"age":75,"days":28},{"age":75,"days":35},{"age":75,"days":41},{"age":75,"days":47},{"age":75,"days":60},{"age":75,"days":71},{"age":75,"days":78},{"age":75,"days":89},{"age":75,"days":97},{"age":75,"days":101},{"age":75,"days":113},{"age":75,"days":120},{"age":75,"days":124},{"age":75,"days":133},{"age":75,"days":145},{"age":75,"days":149},{"age":75,"days":154},{"age":75,"days":167},{"age":75,"days":172},{"age":75,"days":179},{"age":75,"days":191},{"age":75,"days":196},{"age":75,"days":205},{"age":75,"days":216},{"age":75,"days":224},
{"age":76,"days":0},{"age":76,"days":2},{"age":76,"days":4},{"age":76,"days":6},{"age":76,"days":8},{"age":76,"days":10},{"age":76,"days":13},{"age":76,"days":18},{"age":76,"days":23},{"age":76,"days":30},{"age":76,"days":36},{"age":76,"days":41},{"age":76,"days":47},{"age":76,"days":59},{"age":76,"days":70},{"age":76,"days":78},{"age":76,"days":86},{"age":76,"days":94},{"age":76,"days":104},{"age":76,"days":110},{"age":76,"days":116},{"age":76,"days":128},{"age":76,"days":130},{"age":76,"days":141},{"age":76,"days":150},{"age":76,"days":158},{"age":76,"days":164},{"age":76,"days":171},{"age":76,"days":182},{"age":76,"days":187},{"age":76,"days":198},{"age":76,"days":203},{"age":76,"days":213},{"age":76,"days":219},{"age":76,"days":227},
{"age":77,"days":0},{"age":77,"days":2},{"age":77,"days":4},{"age":77,"days":6},{"age":77,"days":8},{"age":77,"days":10},{"age":77,"days":12},{"age":77,"days":16},{"age":77,"days":22},{"age":77,"days":27},{"age":77,"days":34},{"age":77,"days":40},{"age":77,"days":45},{"age":77,"days":57},{"age":77,"days":67},{"age":77,"days":79},{"age":77,"days":88},{"age":77,"days":96},{"age":77,"days":102},{"age":77,"days":107},{"age":77,"days":119},{"age":77,"days":125},{"age":77,"days":134},{"age":77,"days":139},{"age":77,"days":147},{"age":77,"days":153},{"age":77,"days":160},{"age":77,"days":168},{"age":77,"days":176},{"age":77,"days":183},{"age":77,"days":192},{"age":77,"days":200},{"age":77,"days":208},{"age":77,"days":214},{"age":77,"days":221},
{"age":78,"days":0},{"age":78,"days":2},{"age":78,"days":4},{"age":78,"days":6},{"age":78,"days":8},{"age":78,"days":10},{"age":78,"days":12},{"age":78,"days":19},{"age":78,"days":25},{"age":78,"days":31},{"age":78,"days":37},{"age":78,"days":43},{"age":78,"days":48},{"age":78,"days":61},{"age":78,"days":72},{"age":78,"days":81},{"age":78,"days":90},{"age":78,"days":96},{"age":78,"days":100},{"age":78,"days":112},{"age":78,"days":117},{"age":78,"days":123},{"age":78,"days":132},{"age":78,"days":144},{"age":78,"days":148},{"age":78,"days":156},{"age":78,"days":162},{"age":78,"days":170},{"age":78,"days":174},{"age":78,"days":185},{"age":78,"days":189},{"age":78,"days":195},{"age":78,"days":204},{"age":78,"days":211},{"age":78,"days":217},{"age":78,"days":225},
{"age":79,"days":0},{"age":79,"days":2},{"age":79,"days":4},{"age":79,"days":6},{"age":79,"days":8},{"age":79,"days":10},{"age":79,"days":13},{"age":79,"days":17},{"age":79,"days":23},{"age":79,"days":29},{"age":79,"days":35},{"age":79,"days":41},{"age":79,"days":48},{"age":79,"days":52},{"age":79,"days":64},{"age":79,"days":76},{"age":79,"days":85},{"age":79,"days":94},{"age":79,"days":105},{"age":79,"days":109},{"age":79,"days":115},{"age":79,"days":127},{"age":79,"days":131},{"age":79,"days":138},{"age":79,"days":146},{"age":79,"days":151},{"age":79,"days":159},{"age":79,"days":165},{"age":79,"days":173},{"age":79,"days":180},{"age":79,"days":190},{"age":79,"days":199},{"age":79,"days":206},{"age":79,"days":215},{"age":79,"days":223},
{"age":80,"days":0},{"age":80,"days":2},{"age":80,"days":4},{"age":80,"days":6},{"age":80,"days":8},{"age":80,"days":10},{"age":80,"days":15},{"age":80,"days":20},{"age":80,"days":26},{"age":80,"days":32},{"age":80,"days":38},{"age":80,"days":44},{"age":80,"days":50},{"age":80,"days":58},{"age":80,"days":68},{"age":80,"days":77},{"age":80,"days":87},{"age":80,"days":98},{"age":80,"days":101},{"age":80,"days":108},{"age":80,"days":118},{"age":80,"days":122},{"age":80,"days":129},{"age":80,"days":136},{"age":80,"days":142},{"age":80,"days":155},{"age":80,"days":161},{"age":80,"days":167},{"age":80,"days":175},{"age":80,"days":183},{"age":80,"days":186},{"age":80,"days":194},{"age":80,"days":202},{"age":80,"days":210},{"age":80,"days":219},{"age":80,"days":226},
{"age":81,"days":0},{"age":81,"days":2},{"age":81,"days":4},{"age":81,"days":6},{"age":81,"days":8},{"age":81,"days":10},{"age":81,"days":13},{"age":81,"days":16},{"age":81,"days":22},{"age":81,"days":28},{"age":81,"days":34},{"age":81,"days":40},{"age":81,"days":46},{"age":81,"days":55},{"age":81,"days":68},{"age":81,"days":80},{"age":81,"days":87},{"age":81,"days":99},{"age":81,"days":103},{"age":81,"days":111},{"age":81,"days":119},{"age":81,"days":124},{"age":81,"days":133},{"age":81,"days":140},{"age":81,"days":145},{"age":81,"days":152},{"age":81,"days":163},{"age":81,"days":169},{"age":81,"days":178},{"age":81,"days":181},{"age":81,"days":192},{"age":81,"days":197},{"age":81,"days":207},{"age":81,"days":213},{"age":81,"days":220},
{"age":82,"days":0},{"age":82,"days":2},{"age":82,"days":4},{"age":82,"days":6},{"age":82,"days":8},{"age":82,"days":10},{"age":82,"days":14},{"age":82,"days":19},{"age":82,"days":25},{"age":82,"days":31},{"age":82,"days":37},{"age":82,"days":43},{"age":82,"days":49},{"age":82,"days":55},{"age":82,"days":63},{"age":82,"days":74},{"age":82,"days":86},{"age":82,"days":93},{"age":82,"days":106},{"age":82,"days":110},{"age":82,"days":117},{"age":82,"days":126},{"age":82,"days":135},{"age":82,"days":137},{"age":82,"days":148},{"age":82,"days":154},{"age":82,"days":160},{"age":82,"days":171},{"age":82,"days":177},{"age":82,"days":184},{"age":82,"days":193},{"age":82,"days":200},{"age":82,"days":205},{"age":82,"days":216},{"age":82,"days":224},
{"age":83,"days":0},{"age":83,"days":2},{"age":83,"days":4},{"age":83,"days":6},{"age":83,"days":8},{"age":83,"days":10},{"age":83,"days":14},{"age":83,"days":19},{"age":83,"days":25},{"age":83,"days":31},{"age":83,"days":37},{"age":83,"days":43},{"age":83,"days":48},{"age":83,"days":56},{"age":83,"days":66},{"age":83,"days":79},{"age":83,"days":88},{"age":83,"days":96},{"age":83,"days":100},{"age":83,"days":109},{"age":83,"days":114},{"age":83,"days":123},{"age":83,"days":131},{"age":83,"days":142},{"age":83,"days":149},{"age":83,"days":157},{"age":83,"days":164},{"age":83,"days":172},{"age":83,"days":180},{"age":83,"days":188},{"age":83,"days":191},{"age":83,"days":201},{"age":83,"days":209},{"age":83,"days":218},
{"age":84,"days":0},{"age":84,"days":2},{"age":84,"days":4},{"age":84,"days":6},{"age":84,"days":8},{"age":84,"days":10},{"age":84,"days":13},{"age":84,"days":17},{"age":84,"days":24},{"age":84,"days":30},{"age":84,"days":36},{"age":84,"days":42},{"age":84,"days":48},{"age":84,"days":53},{"age":84,"days":65},{"age":84,"days":75},{"age":84,"days":84},{"age":84,"days":95},{"age":84,"days":104},{"age":84,"days":112},{"age":84,"days":120},{"age":84,"days":127},{"age":84,"days":134},{"age":84,"days":143},{"age":84,"days":150},{"age":84,"days":159},{"age":84,"days":166},{"age":84,"days":170},{"age":84,"days":179},{"age":84,"days":187},{"age":84,"days":196},{"age":84,"days":204},{"age":84,"days":212},{"age":84,"days":222},
{"age":85,"days":0},{"age":85,"days":2},{"age":85,"days":4},{"age":85,"days":6},{"age":85,"days":8},{"age":85,"days":10},{"age":85,"days":12},{"age":85,"days":17},{"age":85,"days":24},{"age":85,"days":29},{"age":85,"days":35},{"age":85,"days":42},{"age":85,"days":49},{"age":85,"days":52},{"age":85,"days":64},{"age":85,"days":75},{"age":85,"days":85},{"age":85,"days":97},{"age":85,"days":102},{"age":85,"days":115},{"age":85,"days":121},{"age":85,"days":130},{"age":85,"days":138},{"age":85,"days":146},{"age":85,"days":155},{"age":85,"days":162},{"age":85,"days":168},{"age":85,"days":176},{"age":85,"days":185},{"age":85,"days":193},{"age":85,"days":198},{"age":85,"days":211},{"age":85,"days":220},
{"age":86,"days":0},{"age":86,"days":2},{"age":86,"days":4},{"age":86,"days":6},{"age":86,"days":8},{"age":86,"days":10},{"age":86,"days":12},{"age":86,"days":17},{"age":86,"days":26},{"age":86,"days":34},{"age":86,"days":43},{"age":86,"days":48},{"age":86,"days":60},{"age":86,"days":74},{"age":86,"days":85},{"age":86,"days":97},{"age":86,"days":107},{"age":86,"days":113},{"age":86,"days":124},{"age":86,"days":129},{"age":86,"days":140},{"age":86,"days":147},{"age":86,"days":156},{"age":86,"days":165},{"age":86,"days":174},{"age":86,"days":182},{"age":86,"days":189},{"age":86,"days":200},{"age":86,"days":208},{"age":86,"days":217},
{"age":87,"days":0},{"age":87,"days":2},{"age":87,"days":4},{"age":87,"days":6},{"age":87,"days":8},{"age":87,"days":10},{"age":87,"days":13},{"age":87,"days":20},{"age":87,"days":29},{"age":87,"days":37},{"age":87,"days":45},{"age":87,"days":62},{"age":87,"days":76},{"age":87,"days":89},{"age":87,"days":108},{"age":87,"days":116},{"age":87,"days":120},{"age":87,"days":134},{"age":87,"days":141},{"age":87,"days":147},{"age":87,"days":159},{"age":87,"days":167},{"age":87,"days":172},{"age":87,"days":185},{"age":87,"days":197},{"age":87,"days":204},{"age":87,"days":210},{"age":87,"days":223},
{"age":88,"days":0},{"age":88,"days":2},{"age":88,"days":4},{"age":88,"days":6},{"age":88,"days":8},{"age":88,"days":10},{"age":88,"days":14},{"age":88,"days":20},{"age":88,"days":27},{"age":88,"days":33},{"age":88,"days":39},{"age":88,"days":45},{"age":88,"days":53},{"age":88,"days":65},{"age":88,"days":77},{"age":88,"days":86},{"age":88,"days":93},{"age":88,"days":101},{"age":88,"days":111},{"age":88,"days":116},{"age":88,"days":131},{"age":88,"days":139},{"age":88,"days":145},{"age":88,"days":157},{"age":88,"days":170},{"age":88,"days":178},{"age":88,"days":184},{"age":88,"days":199},{"age":88,"days":214},
{"age":89,"days":0},{"age":89,"days":2},{"age":89,"days":4},{"age":89,"days":6},{"age":89,"days":8},{"age":89,"days":10},{"age":89,"days":16},{"age":89,"days":24},{"age":89,"days":33},{"age":89,"days":42},{"age":89,"days":50},{"age":89,"days":57},{"age":89,"days":71},{"age":89,"days":94},{"age":89,"days":110},{"age":89,"days":118},{"age":89,"days":125},{"age":89,"days":140},{"age":89,"days":149},{"age":89,"days":156},{"age":89,"days":171},{"age":89,"days":180},{"age":89,"days":186},{"age":89,"days":202},{"age":89,"days":219},
{"age":90,"days":0},{"age":90,"days":2},{"age":90,"days":4},{"age":90,"days":6},{"age":90,"days":8},{"age":90,"days":10},{"age":90,"days":15},{"age":90,"days":21},{"age":90,"days":28},{"age":90,"days":35},{"age":90,"days":41},{"age":90,"days":49},{"age":90,"days":56},{"age":90,"days":69},{"age":90,"days":82},{"age":90,"days":91},{"age":90,"days":105},{"age":90,"days":122},{"age":90,"days":131},{"age":90,"days":139},{"age":90,"days":158},{"age":90,"days":166},{"age":90,"days":176},{"age":90,"days":195},{"age":90,"days":213},
{"age":91,"days":0},{"age":91,"days":2},{"age":91,"days":4},{"age":91,"days":6},{"age":91,"days":8},{"age":91,"days":10},{"age":91,"days":13},{"age":91,"days":18},{"age":91,"days":24},{"age":91,"days":32},{"age":91,"days":38},{"age":91,"days":47},{"age":91,"days":58},{"age":91,"days":71},{"age":91,"days":83},{"age":91,"days":94},{"age":91,"days":114},{"age":91,"days":121},{"age":91,"days":133},{"age":91,"days":151},{"age":91,"days":163},{"age":91,"days":170},{"age":91,"days":190},{"age":91,"days":209},
{"age":92,"days":0},{"age":92,"days":2},{"age":92,"days":4},{"age":92,"days":6},{"age":92,"days":8},{"age":92,"days":10},{"age":92,"days":14},{"age":92,"days":22},{"age":92,"days":30},{"age":92,"days":39},{"age":92,"days":46},{"age":92,"days":54},{"age":92,"days":67},{"age":92,"days":79},{"age":92,"days":92},{"age":92,"days":107},{"age":92,"days":128},{"age":92,"days":136},{"age":92,"days":149},{"age":92,"days":168},{"age":92,"days":179},{"age":92,"days":187},{"age":92,"days":206},
{"age":93,"days":0},{"age":93,"days":2},{"age":93,"days":4},{"age":93,"days":6},{"age":93,"days":8},{"age":93,"days":10},{"age":93,"days":12},{"age":93,"days":21},{"age":93,"days":31},{"age":93,"days":44},{"age":93,"days":65},{"age":93,"days":80},{"age":93,"days":96},{"age":93,"days":119},{"age":93,"days":130},{"age":93,"days":142},{"age":93,"days":165},{"age":93,"days":177},{"age":93,"days":188},{"age":93,"days":212},
{"age":94,"days":0},{"age":94,"days":2},{"age":94,"days":4},{"age":94,"days":6},{"age":94,"days":8},{"age":94,"days":10},{"age":94,"days":15},{"age":94,"days":26},{"age":94,"days":35},{"age":94,"days":47},{"age":94,"days":59},{"age":94,"days":84},{"age":94,"days":111},{"age":94,"days":137},{"age":94,"days":152},{"age":94,"days":163},{"age":94,"days":196},
{"age":95,"days":0},{"age":95,"days":2},{"age":95,"days":4},{"age":95,"days":6},{"age":95,"days":8},{"age":95,"days":10},{"age":95,"days":13},{"age":95,"days":24},{"age":95,"days":39},{"age":95,"days":68},{"age":95,"days":91},{"age":95,"days":124},{"age":95,"days":141},{"age":95,"days":152},{"age":95,"days":181},{"age":95,"days":207},
{"age":96,"days":0},{"age":96,"days":2},{"age":96,"days":4},{"age":96,"days":7},{"age":96,"days":17},{"age":96,"days":29},{"age":96,"days":43},{"age":96,"days":63},{"age":96,"days":87},{"age":96,"days":134},{"age":96,"days":171},{"age":96,"days":200},
{"age":97,"days":0},{"age":97,"days":2},{"age":97,"days":4},{"age":97,"days":7},{"age":97,"days":14},{"age":97,"days":31},{"age":97,"days":74},{"age":97,"days":146},{"age":97,"days":189},
{"age":98,"days":0},{"age":98,"days":2},{"age":98,"days":4},{"age":98,"days":7},{"age":98,"days":19},{"age":98,"days":36},{"age":98,"days":61},{"age":98,"days":117},{"age":98,"days":178},
{"age":99,"days":0},{"age":99,"days":2},{"age":99,"days":22},{"age":99,"days":83},{"age":99,"days":128},{"age":99,"days":193},
{"age":100,"days":0},{"age":100,"days":2},{"age":100,"days":16},{"age":100,"days":70},{"age":100,"days":156},
{"age":101,"days":0},{"age":101,"days":2},{"age":101,"days":26},{"age":101,"days":197},
{"age":102,"days":0},{"age":102,"days":12},{"age":102,"days":54},
{"age":103,"days":0}
          ]},
          "mark": {"type": "circle", "size": 12, "color": "#000000", "opacity": 1},
          "encoding": {
            "x": {
              "field": "age", "type": "quantitative",
              "scale": {"domain": [-5.44, 111.07], "nice": false, "zero": false},
              "axis": {
                "values": [0, 12.5, 25, 37.5, 50, 62.5, 75, 87.5, 100],
                "labelExpr": "datum.value % 25 === 0 ? datum.label : ''",
                "labelAlign": "right",
                "labelOffset": -1,
                "labelPadding": 8.5,
                "tickOpacity": {"condition": {"test": "datum.value % 25 === 0", "value": 1}, "value": 0},
                "gridWidth": {"condition": {"test": "datum.value % 25 === 0", "value": 1.5}, "value": 0.8},
                "title": "Source: VAERS (n= 6335 )",
                "titleFontSize": 17.5,
                "titleX": 428,
                "titleY": 83,
                "titleAlign": "right",
                "titleBaseline": "alphabetic",
                "titleAngle": 0
              }
            },
            "y": {
              "field": "days", "type": "quantitative",
              "scale": {"domain": [-20, 440.6], "nice": false, "zero": false},
              "axis": {
                "values": [0, 50, 100, 150, 200, 250, 300, 350, 400],
                "labels": false,
                "ticks": false,
                "title": null,
                "gridWidth": {"condition": {"test": "datum.value % 100 === 0", "value": 1.5}, "value": 0.8}
              }
            }
          }
        },
        {
          "data": {"values": [{"age": 0, "days": 19.2}, {"age": 106, "days": 100.1}]},
          "mark": {"type": "line", "color": "#3366FF", "strokeWidth": 3},
          "encoding": {
            "x": {"field": "age", "type": "quantitative"},
            "y": {"field": "days", "type": "quantitative"}
          }
        },
        {
          "data": {"values": [{"panel": "2", "n": "n=3325"}]},
          "layer": [
            {
              "mark": {"type": "rect", "color": "#D9D9D9"},
              "encoding": {
                "x": {"datum": -5.44}, "x2": {"datum": 111.07},
                "y": {"datum": 420.4}, "y2": {"datum": 440.6}
              }
            },
            {
              "mark": {"type": "text", "fontSize": 17.5, "color": "#1A1A1A", "align": "center", "baseline": "alphabetic"},
              "encoding": {"x": {"datum": 52.8}, "y": {"datum": 425.5}, "text": {"field": "panel"}}
            },
            {
              "mark": {"type": "text", "fontSize": 21.7, "color": "#BDBDBD", "align": "left", "baseline": "alphabetic"},
              "encoding": {"x": {"datum": 11.5}, "y": {"datum": 394.7}, "text": {"field": "n"}}
            }
          ]
        }
      ]
    }
  ]
}
